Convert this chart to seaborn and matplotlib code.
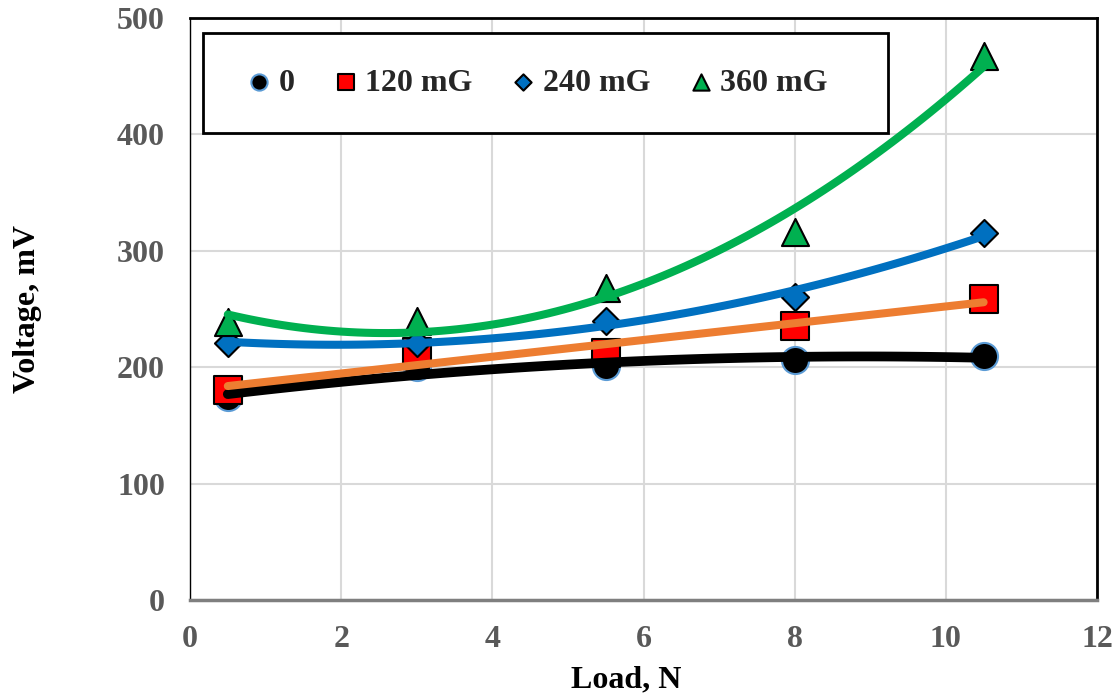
import numpy as np
import matplotlib.pyplot as plt
import seaborn as sns
from matplotlib.patches import Rectangle

# Data
load = [0.5, 3, 5.5, 8, 10.5]
v_0 = [174, 200, 201, 206, 210]
v_120 = [180, 213, 212, 235, 259]
v_240 = [221, 221, 240, 260, 315]
v_360 = [239, 240, 268, 316, 467]

labels = ['0', '120 mG', '240 mG', '360 mG']
x_ticks = [0, 2, 4, 6, 8, 10, 12]
y_ticks = [0, 100, 200, 300, 400, 500]

# Styles
marker_colors = ['black', '#FF0000', '#0070C0', '#00B050']
edge_colors = ['#5B9BD5', 'black', 'black', 'black']
markers = ['o', 's', 'D', '^']
marker_sizes = [380, 380, 190, 380]
line_colors = ['black', '#ED7D31', '#0070C0', '#00B050']
fit_orders = [2, 1, 2, 2]   # Excel-style trendlines
line_widths = [7, 5.8, 5.8, 5.8]
FS = 23

sns.set_style('white')
plt.rcParams['font.family'] = ['Liberation Serif', 'DejaVu Serif']
plt.rcParams['font.weight'] = 'bold'

fig = plt.figure(figsize=(11.17, 6.98), dpi=100)
ax = fig.add_axes([0.1701, 0.1404, 0.812, 0.8338])

series = [v_0, v_120, v_240, v_360]
x = np.array(load, dtype=float)

for i, vals in enumerate(series):
    sns.scatterplot(x=x, y=np.array(vals, dtype=float), marker=markers[i], s=marker_sizes[i],
                    color=marker_colors[i], edgecolor=edge_colors[i], linewidth=1.5,
                    label=labels[i], zorder=3 + i, ax=ax)

for i, vals in enumerate(series):
    sns.regplot(x=x, y=np.array(vals, dtype=float), order=fit_orders[i], ci=None,
                scatter=False, truncate=True, ax=ax,
                line_kws=dict(color=line_colors[i], lw=line_widths[i],
                              solid_capstyle='round', zorder=10 + i))

ax.set_xlim(0, 12)
ax.set_ylim(0, 500)
ax.set_xticks(x_ticks)
ax.set_yticks(y_ticks)
ax.grid(True, color='#D9D9D9', lw=1.5)
ax.set_axisbelow(True)
ax.tick_params(length=0, pad=18, labelsize=FS, labelcolor='#595959')

ax.set_xlabel('Load, N', fontsize=FS, fontweight='bold', color='black')
ax.set_ylabel('Voltage, mV', fontsize=FS, fontweight='bold', color='black')
ax.xaxis.set_label_coords(0.481, -0.112)
ax.yaxis.set_label_coords(-0.163, 0.5)

for side in ['top', 'right']:
    ax.spines[side].set_color('black')
    ax.spines[side].set_linewidth(2)
ax.spines['left'].set_color('black')
ax.spines['left'].set_linewidth(1)
ax.spines['bottom'].set_color('#7F7F7F')
ax.spines['bottom'].set_linewidth(2.5)

# Legend box
box = Rectangle((0.0143, 0.802), 0.755, 0.172, transform=ax.transAxes,
                facecolor='white', edgecolor='black', lw=2, zorder=20)
ax.add_patch(box)
leg = ax.legend(loc='center', bbox_to_anchor=(0.0143 + 0.755 / 2 - 0.009, 0.802 + 0.086),
                ncol=4, frameon=False, prop={'weight': 'bold', 'size': FS},
                markerscale=0.6, handlelength=0.8, handletextpad=0.2,
                columnspacing=1.2)
leg.set_zorder(21)

fig.savefig('out.png', dpi=100)
